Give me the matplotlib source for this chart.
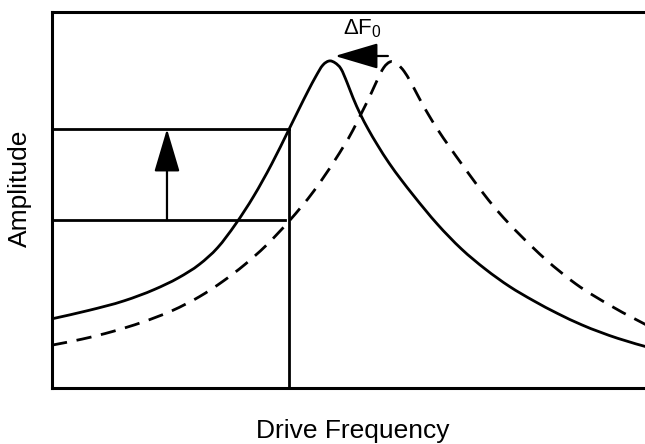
import matplotlib
matplotlib.use("Agg")
import matplotlib.pyplot as plt
from matplotlib.path import Path
from matplotlib.patches import PathPatch

plt.rcParams['font.family'] = ['Liberation Sans', 'DejaVu Sans']
plt.rcParams['mathtext.fontset'] = 'custom'
plt.rcParams['mathtext.rm'] = 'Liberation Sans'
plt.rcParams['mathtext.it'] = 'Liberation Sans'

# Shifted (measured) resonance curve - solid
solid_freq = [0, 6, 12, 17, 21, 24.5, 27.5, 30.5, 33.5, 36.5, 39.4, 41.0, 42.6, 43.8, 45.0,
              46.2, 47.0, 48.0, 49.0, 50.0, 51.2, 52.5, 54, 56, 58, 60, 64, 68, 72, 76, 80,
              84, 88, 94, 100]
solid_amp = [18.4, 20.6, 23.2, 26.2, 29.3, 32.9, 37.3, 43.6, 51.0, 59.6, 68.9, 74.1, 79.2,
             82.8, 85.9, 87.0, 86.5, 84.9, 81.3, 77.2, 72.9, 68.9, 64.8, 59.8, 55.4, 51.3,
             43.6, 37.0, 31.6, 27.0, 23.2, 19.8, 16.8, 13.2, 10.4]

# Original resonance curve - dashed
dashed_freq = [0, 5, 10, 15, 20, 24.5, 28.5, 32, 35.5, 39.5, 43.5, 47, 50, 51.5, 52.8, 54.0,
               55.1, 56.3, 57.4, 58.5, 59.5, 60.5, 61.5, 62.5, 64, 66, 68, 70, 72.5, 75, 78,
               82, 87, 93, 100]
dashed_amp = [11.4, 13.0, 15.0, 17.5, 20.6, 24.3, 28.5, 32.8, 37.8, 44.6, 52.4, 60.6, 68.6,
              73.4, 77.6, 81.8, 85.2, 86.8, 86.1, 84.2, 81.6, 78.6, 75.6, 72.8, 68.9, 64.2,
              59.7, 55.3, 50.0, 45.3, 40.3, 34.2, 27.7, 21.7, 15.7]

drive_freq = 39.4        # fixed drive frequency
amp_before = 44.7        # amplitude on original curve
amp_after = 68.9         # amplitude on shifted curve
arrow_freq = 19.1
lower_line_end = 38.7
peak_old = 55.8
peak_new = 47.0
shift_arrow_amp = 88.3


def smooth_path(xs, ys):
    """Cubic Bezier path passing through every given point."""
    n = len(xs)
    slopes = []
    for i in range(n):
        if i == 0:
            m = (ys[1] - ys[0]) / (xs[1] - xs[0])
        elif i == n - 1:
            m = (ys[-1] - ys[-2]) / (xs[-1] - xs[-2])
        else:
            h0 = xs[i] - xs[i - 1]
            h1 = xs[i + 1] - xs[i]
            d0 = (ys[i] - ys[i - 1]) / h0
            d1 = (ys[i + 1] - ys[i]) / h1
            m = (h1 * d0 + h0 * d1) / (h0 + h1)
        slopes.append(m)
    verts = [(xs[0], ys[0])]
    codes = [Path.MOVETO]
    for i in range(n - 1):
        h = xs[i + 1] - xs[i]
        verts += [(xs[i] + h / 3, ys[i] + slopes[i] * h / 3),
                  (xs[i + 1] - h / 3, ys[i + 1] - slopes[i + 1] * h / 3),
                  (xs[i + 1], ys[i + 1])]
        codes += [Path.CURVE4] * 3
    return Path(verts, codes)


W, H = 645, 444
fig = plt.figure(figsize=(W / 100, H / 100), dpi=100)
ax = fig.add_axes([52 / W, 56 / H, 602 / W, 376 / H])
ax.set_xlim(0, 100)
ax.set_ylim(0, 100)

lw = 2.0
ax.add_patch(PathPatch(smooth_path(solid_freq, solid_amp), fill=False, edgecolor='black',
                       lw=lw, capstyle='butt', joinstyle='round'))
ax.add_patch(PathPatch(smooth_path(dashed_freq, dashed_amp), fill=False, edgecolor='black',
                       lw=lw, linestyle=(0, (5.5, 3.5)), capstyle='butt'))

# guide lines
ax.plot([drive_freq, drive_freq], [0, amp_after], color='black', lw=lw)
ax.plot([0, drive_freq], [amp_after, amp_after], color='black', lw=lw)
ax.plot([0, lower_line_end], [amp_before, amp_before], color='black', lw=lw)

arrow_style = '-|>,head_length=2.7,head_width=0.8'
ax.annotate('', xy=(arrow_freq, amp_after), xytext=(arrow_freq, amp_before),
            arrowprops=dict(arrowstyle=arrow_style, mutation_scale=10, color='black',
                            lw=1.6, shrinkA=0, shrinkB=0))
ax.annotate('', xy=(peak_new, shift_arrow_amp), xytext=(peak_old, shift_arrow_amp),
            arrowprops=dict(arrowstyle=arrow_style, mutation_scale=10, color='black',
                            lw=1.6, shrinkA=0, shrinkB=0))
ax.text(51.6, 94.0, r'$\mathrm{\Delta F_0}$', ha='center', va='baseline', fontsize=16)

for side in ['left', 'bottom', 'top']:
    ax.spines[side].set_linewidth(2.2)
ax.spines['right'].set_visible(False)
ax.set_xticks([])
ax.set_yticks([])

fig.text(353 / W, 1 - 438 / H, 'Drive Frequency', ha='center', va='baseline', fontsize=19)
fig.text(20 / W, 1 - 188 / H, 'Amplitude', ha='center', va='center', rotation=90, fontsize=19)

fig.savefig('out.png', dpi=100)
